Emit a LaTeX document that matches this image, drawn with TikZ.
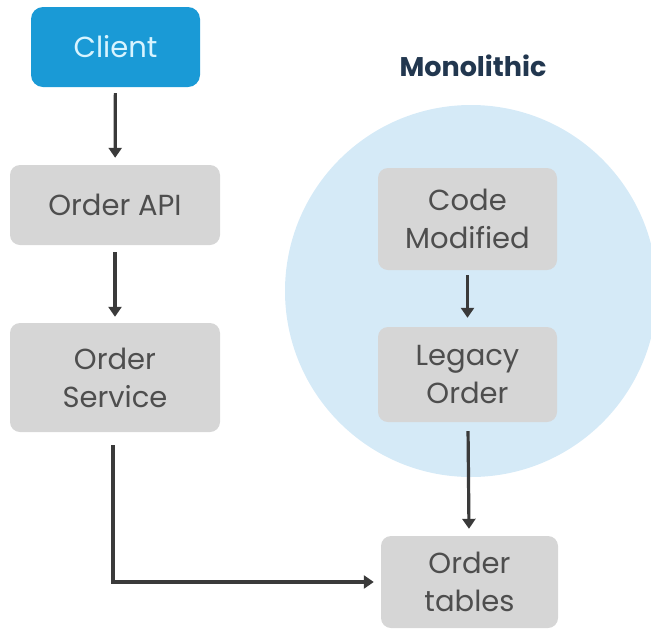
\documentclass[tikz,border=0pt]{standalone}
\usepackage{fontspec}
\setmainfont{Poppins}
\usetikzlibrary{arrows.meta}
\definecolor{boxgray}{HTML}{D6D6D6}
\definecolor{txtgray}{HTML}{4E4E4E}
\definecolor{clientblue}{HTML}{1A9AD6}
\definecolor{clienttxt}{HTML}{D8F4FF}
\definecolor{monofill}{HTML}{D5EAF7}
\definecolor{navy}{HTML}{22374F}
\definecolor{arrowgray}{HTML}{3A3A3A}
\tikzset{
  x=1pt, y=-1pt,
  box/.style={fill=boxgray, rounded corners=10pt, text=txtgray, align=center,
    font=\fontsize{29}{38}\selectfont, inner sep=0pt},
  clientbox/.style={fill=clientblue, rounded corners=12pt, text=clienttxt,
    font=\fontsize{29}{34}\selectfont, inner sep=0pt},
  arr/.style={draw=arrowgray, line width=3.2pt, -{Stealth[length=10pt,width=13pt,inset=0pt]}},
}
\begin{document}
\begin{tikzpicture}
\useasboundingbox (0,0) rectangle (651,630);
% monolithic region
\fill[monofill] (471,291) circle[radius=186];
\node[font=\fontsize{27}{32}\selectfont\bfseries, text=navy] (mono) at (473,66) {Monolithic};
% left column
\node[clientbox, minimum width=169pt, minimum height=80pt] (client) at (115.5,47) {Client};
\node[box, minimum width=210pt, minimum height=80pt] (api) at (115,205) {Order API};
\node[box, minimum width=210pt, minimum height=109pt] (svc) at (115,377.5) {Order\\Service};
% right column
\node[box, minimum width=179pt, minimum height=102pt] (code) at (467.5,219) {Code\\Modified};
\node[box, minimum width=179pt, minimum height=95pt] (legacy) at (467.5,374.5) {Legacy\\Order};
\node[box, minimum width=177pt, minimum height=92pt] (tables) at (469.5,582) {Order\\tables};
% connectors
\draw[arr, shorten <=6pt, shorten >=7pt] (client) -- (api);
\draw[arr, shorten <=7pt, shorten >=6pt] (api) -- (svc);
\draw[arr, shorten <=5pt, shorten >=9pt] (code) -- (legacy);
\draw[arr, shorten <=9pt, shorten >=7pt] (legacy) -- (tables);
\draw[arr, shorten >=7pt] ([xshift=-2pt,yshift=-13pt]svc.south) |- (tables.west);
\end{tikzpicture}
\end{document}
